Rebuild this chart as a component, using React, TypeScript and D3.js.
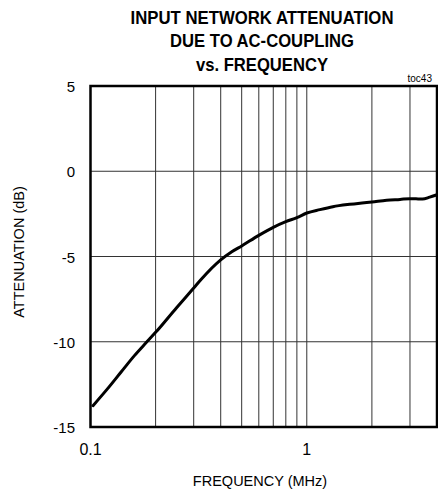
import React from "react";
import * as d3 from "d3";

const titleLines = ["INPUT NETWORK ATTENUATION", "DUE TO AC-COUPLING", "vs. FREQUENCY"];
const xLabel = "FREQUENCY (MHz)";
const yLabel = "ATTENUATION (dB)";
const chartId = "toc43";

const freqMHz = [0.1027, 0.12, 0.1388, 0.16, 0.181, 0.2, 0.25, 0.3, 0.326, 0.4, 0.45, 0.5, 0.6, 0.7, 0.8, 0.9, 1.0, 1.15, 1.32, 1.58, 1.8, 2.0, 2.34, 2.7, 3.0, 3.2, 3.43, 3.7, 3.97];
const attenDb = [-13.75, -12.75, -11.76, -10.8, -10.05, -9.45, -8.0, -6.85, -6.32, -5.2, -4.72, -4.38, -3.76, -3.29, -2.96, -2.72, -2.45, -2.25, -2.08, -1.94, -1.86, -1.8, -1.7, -1.65, -1.61, -1.62, -1.63, -1.52, -1.39];

const xGrid = [0.2, 0.3, 0.4, 0.5, 0.6, 0.7, 0.8, 0.9, 1, 2, 3];
const xTicks = [0.1, 1];
const xTickLabels = ["0.1", "1"];
const yTicks = [5, 0, -5, -10, -15];

const W = 438, H = 492;
const left = 90.5, right = 437, top = 86, bottom = 427;

export default function App() {
  const x = d3.scaleLog().domain([0.1, 4]).range([left, right]);
  const y = d3.scaleLinear().domain([-15, 5]).range([bottom, top]);
  const pts: [number, number][] = freqMHz.map((f, i) => [f, attenDb[i]]);
  const line = d3.line<[number, number]>().x(d => x(d[0])).y(d => y(d[1])).curve(d3.curveMonotoneX);
  const font = "'Liberation Sans', Arial, sans-serif";
  return (
    <svg width={W} height={H} style={{ position: "absolute", left: 0, top: 0, background: "#fff" }} fontFamily={font}>
      {titleLines.map((t, i) => (
        <text key={t} x={262} y={[23.5, 47.3, 70.5][i]} textAnchor="middle" fontWeight="bold" fontSize={18.5}
          textLength={[263, 184, 132][i]} lengthAdjust="spacingAndGlyphs">{t}</text>
      ))}
      <text x={432} y={82} textAnchor="end" fontSize={10}>{chartId}</text>
      {xGrid.map(v => (
        <line key={"gx" + v} x1={x(v)} x2={x(v)} y1={top} y2={bottom} stroke="#333" strokeWidth={1} />
      ))}
      {yTicks.map(v => (
        <line key={"gy" + v} x1={left} x2={right} y1={y(v)} y2={y(v)} stroke="#333" strokeWidth={1} />
      ))}
      <rect x={left} y={top} width={right - left} height={bottom - top} fill="none" stroke="#000" strokeWidth={2.5} />
      <path d={line(pts) || ""} fill="none" stroke="#000" strokeWidth={3} strokeLinejoin="round" strokeLinecap="round" />
      {yTicks.map(v => (
        <text key={"yt" + v} x={75} y={y(v) + 6} textAnchor="end" fontSize={15}>{v}</text>
      ))}
      {xTicks.map((v, i) => (
        <text key={"xt" + v} x={x(v)} y={455} textAnchor="middle" fontSize={16}>{xTickLabels[i]}</text>
      ))}
      <text x={260} y={486} textAnchor="middle" fontSize={14.5}>{xLabel}</text>
      <text transform={`translate(24,252) rotate(-90)`} textAnchor="middle" fontSize={14.5}>{yLabel}</text>
    </svg>
  );
}
